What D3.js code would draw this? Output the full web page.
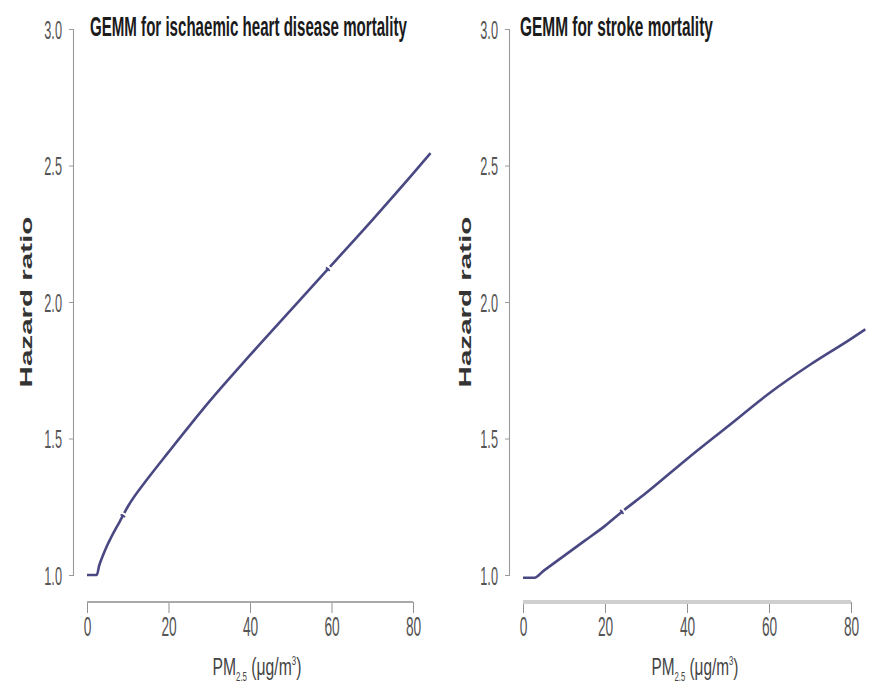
<!DOCTYPE html>
<html><head><meta charset="utf-8">
<script src="https://cdn.jsdelivr.net/npm/d3@7/dist/d3.min.js"></script>
<style>
html,body{margin:0;padding:0;background:#fff;}
svg{display:block;font-family:"Liberation Sans",Arial,sans-serif;}
</style></head>
<body>
<svg id="chart" width="893" height="688"></svg>
<script>
// ---- data ----
const xTicks = [0, 20, 40, 60, 80];
const yTicks = [1.0, 1.5, 2.0, 2.5, 3.0];
const titles = ["GEMM for ischaemic heart disease mortality", "GEMM for stroke mortality"];
const yLabel = "Hazard ratio";
const ihdPM = [0, 2.4, 3, 4, 5, 6, 8, 10, 15, 20, 30, 40, 50, 60, 70, 80, 84.3];
const ihdHR = [1.0, 1.0, 1.035, 1.075, 1.11, 1.14, 1.195, 1.25, 1.355, 1.45, 1.635, 1.805, 1.97, 2.135, 2.30, 2.47, 2.545];
const strokePM = [0, 2.8, 5, 10, 15, 20, 24, 30, 40, 50, 60, 70, 80, 83.5];
const strokeHR = [0.99, 0.99, 1.015, 1.07, 1.125, 1.18, 1.23, 1.30, 1.425, 1.545, 1.665, 1.77, 1.865, 1.90];
const ihdBreaks = [8.8, 59.1];
const strokeBreaks = [24.1];

// ---- layout ----
const panels = [
  {pm: ihdPM, hr: ihdHR, breaks: ihdBreaks, title: titles[0], x0: 87, x1: 413, yAxisX: 73,
   titleX: 90, titleW: 317, ylabX: 32, xlabCx: 257, xlabW: 89, xAxisStroke: "#a9a9a9", xAxisW: 2},
  {pm: strokePM, hr: strokeHR, breaks: strokeBreaks, title: titles[1], x0: 523, x1: 851, yAxisX: 509,
   titleX: 520, titleW: 193, ylabX: 471, xlabCx: 695, xlabW: 87, xAxisStroke: "#cfcfcf", xAxisW: 4}
];
const yTop = 29, yBot = 575, xAxisY = 602;
const lineColor = "#4a4882";
const condense = 0.49;

const svg = d3.select("#chart");

panels.forEach(p => {
  const x = d3.scaleLinear().domain([0, 80]).range([p.x0, p.x1]);
  const y = d3.scaleLinear().domain([1.0, 3.0]).range([yBot, yTop]);
  const g = svg.append("g");

  // y axis
  const ya = g.append("g").attr("transform", `translate(${p.yAxisX},0)`)
    .call(d3.axisLeft(y).tickValues(yTicks).tickFormat(d3.format(".1f")).tickSizeInner(4).tickSizeOuter(4).tickPadding(7));
  ya.select(".domain").attr("stroke", "#9a9a9a").attr("stroke-width", 1.1);
  ya.selectAll(".tick line").attr("stroke", "#9a9a9a");
  ya.selectAll(".tick text")
    .attr("font-size", 26).attr("fill", "#555").attr("font-family", "Liberation Sans, Arial, sans-serif")
    .attr("x", -11 / condense).attr("transform", `scale(${condense},1)`).attr("dy", "0.36em");

  // x axis
  const xa = g.append("g").attr("transform", `translate(0,${xAxisY})`)
    .call(d3.axisBottom(x).tickValues(xTicks).tickFormat(d3.format("d")).tickSizeInner(11).tickSizeOuter(11).tickPadding(12));
  xa.select(".domain").attr("stroke", "none");
  xa.append("line").attr("x1", p.x0).attr("x2", p.x1).attr("y1", 0).attr("y2", 0)
    .attr("stroke", p.xAxisStroke).attr("stroke-width", p.xAxisW);
  xa.selectAll(".tick line").attr("stroke", "#8f8f8f").attr("stroke-width", 1);
  xa.selectAll(".tick text")
    .attr("font-size", 28).attr("fill", "#555").attr("font-family", "Liberation Sans, Arial, sans-serif")
    .attr("transform", `scale(${condense},1)`).attr("y", 12).attr("dy", "0.78em");

  // title
  const t = g.append("text").attr("x", 0).attr("y", 0)
    .attr("font-size", 28).attr("font-weight", "bold").attr("fill", "#1b1b1b")
    .text(p.title);
  const tw = t.node().getComputedTextLength();
  t.attr("transform", `translate(${p.titleX},36) scale(${p.titleW / tw},1)`);

  // y label (rotated)
  const yl = g.append("text").attr("font-size", 17).attr("font-weight", "bold").attr("fill", "#333")
    .attr("text-anchor", "middle").text(yLabel);
  const yw = yl.node().getComputedTextLength();
  yl.attr("transform", `translate(${p.ylabX},302) rotate(-90) scale(${171 / yw},1)`);

  // x label
  const xl = g.append("text").attr("font-size", 24).attr("fill", "#444").attr("text-anchor", "start");
  xl.append("tspan").text("PM");
  xl.append("tspan").attr("font-size", 12).attr("dy", 6).text("2.5");
  xl.append("tspan").attr("dy", -6).text(" (\u03bcg/m");
  xl.append("tspan").attr("font-size", 12).attr("dy", -10).text("3");
  xl.append("tspan").attr("dy", 10).text(")");
  const xw = xl.node().getBBox().width;
  xl.attr("transform", `translate(${p.xlabCx - p.xlabW / 2},675) scale(${p.xlabW / xw},1)`);

  // curve
  const pts = p.pm.map((v, i) => [v, p.hr[i]]);
  const line = d3.line().x(d => x(d[0])).y(d => y(d[1])).curve(d3.curveMonotoneX);
  g.append("path").datum(pts).attr("d", line).attr("fill", "none")
    .attr("stroke", lineColor).attr("stroke-width", 2.6).attr("stroke-linecap", "butt");

  // small breaks on the curve
  const interp = v => {
    for (let i = 1; i < pts.length; i++) {
      if (v <= pts[i][0]) {
        const a = pts[i - 1], b = pts[i];
        const f = (v - a[0]) / (b[0] - a[0]);
        return a[1] + f * (b[1] - a[1]);
      }
    }
    return pts[pts.length - 1][1];
  };
  p.breaks.forEach(bv => {
    const cx = x(bv), cy = y(interp(bv));
    const cx2 = x(bv + 1), cy2 = y(interp(bv + 1));
    const ang = Math.atan2(cy2 - cy, cx2 - cx);
    const nx = -Math.sin(ang), ny = Math.cos(ang);
    const gx = cx + Math.cos(ang) * 2.2, gy = cy + Math.sin(ang) * 2.2;
    g.append("line").attr("x1", gx - nx * 3).attr("y1", gy - ny * 3)
      .attr("x2", gx + nx * 3).attr("y2", gy + ny * 3)
      .attr("stroke", "#fff").attr("stroke-width", 2);
    g.append("line").attr("x1", cx - nx * 2.6).attr("y1", cy - ny * 2.6)
      .attr("x2", cx + nx * 2.6).attr("y2", cy + ny * 2.6)
      .attr("stroke", lineColor).attr("stroke-width", 1.8);
  });
});
</script>
</body></html>
